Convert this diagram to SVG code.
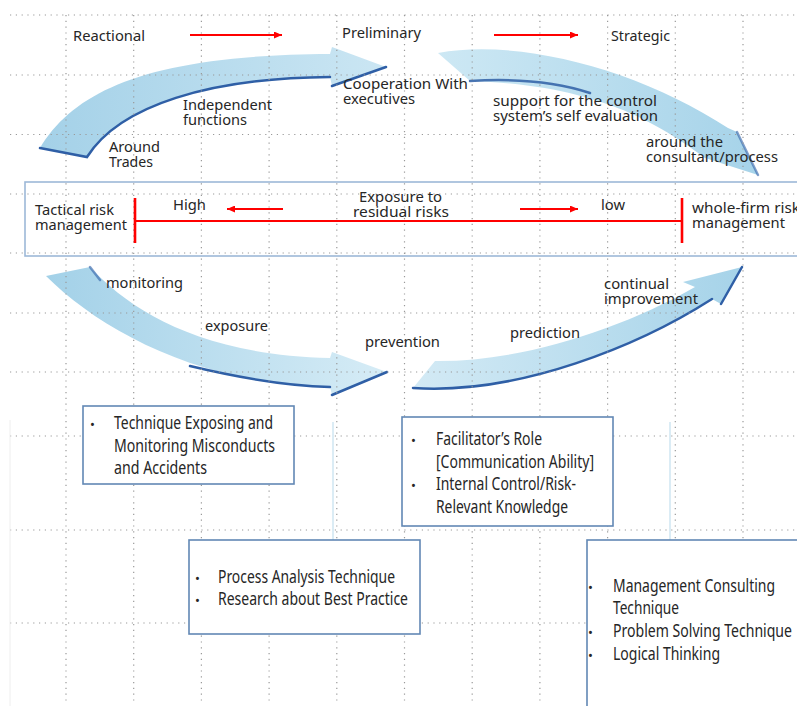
<svg xmlns="http://www.w3.org/2000/svg" width="797" height="706" viewBox="0 0 797 706">
<defs>
<style>
.lbl{font-family:"Noto Sans","Open Sans","DejaVu Sans",sans-serif;font-size:14px;fill:#262626}
.bx{font-family:"Noto Sans","Open Sans","DejaVu Sans",sans-serif;font-size:18px;fill:#262626}
.bul{font-family:"Noto Sans","DejaVu Sans",sans-serif;font-size:13px;fill:#262626}
.grid{stroke:#9a9a9a;stroke-width:1.2;stroke-dasharray:1.2 4.6;fill:none}
.red{stroke:#ff0000;stroke-width:2;fill:none}
.tick{stroke:#ff0000;stroke-width:2.6;fill:none}
.box{fill:#ffffff;stroke:#6288b5;stroke-width:1.6}
.dk{stroke:#2f5fa6;stroke-width:2.5;fill:none;stroke-linecap:round}
.thin{stroke:#cfe6f2;stroke-width:1.5;fill:none}
</style>
<marker id="rh" markerUnits="userSpaceOnUse" markerWidth="9" markerHeight="7" refX="8" refY="3.5" orient="auto">
<path d="M0,0 L8,3.5 L0,7 Z" fill="#ff0000"/>
</marker>
<linearGradient id="g1" x1="0" y1="0" x2="1" y2="0">
<stop offset="0" stop-color="#a4d1e8"/><stop offset="1" stop-color="#cbe6f3"/>
</linearGradient>
<linearGradient id="g2" x1="0" y1="0" x2="1" y2="0">
<stop offset="0" stop-color="#cde8f4"/><stop offset="1" stop-color="#a6d3e9"/>
</linearGradient>
<linearGradient id="g3" x1="0" y1="0" x2="1" y2="0">
<stop offset="0" stop-color="#a3d1e8"/><stop offset="1" stop-color="#d6ecf6"/>
</linearGradient>
<linearGradient id="g4" x1="0" y1="0" x2="1" y2="0">
<stop offset="0" stop-color="#d3eaf5"/><stop offset="1" stop-color="#a6d3e9"/>
</linearGradient>
</defs>
<rect x="0" y="0" width="797" height="706" fill="#ffffff"/>

<g id="connectors">
<path d="M40,148 C75,90 150,55 330,54 L332,47 L386,67 L332,86 L330,77 C210,78 120,105 87,157 Z" fill="url(#g1)"/>
<path class="dk" d="M40,148 L87,157 C120,105 210,78 330,77 M332,86 L386,67"/>
<path d="M438,53 C520,38 640,70 728,128 L737,132 L758,175 L705,158 C660,125 600,85 470,81 Z" fill="url(#g2)"/>
<path class="dk" d="M470,81 C520,78 560,83 590,93" stroke-opacity="0.85"/>
<path class="dk" d="M737,132 L758,175" stroke-opacity="0.6" stroke-width="1.6"/>
<path d="M46,276 L90,267 C130,310 200,355 330,358 L332,352 L387,372 L332,395 L330,387 C200,385 100,330 46,276 Z" fill="url(#g3)"/>
<path class="dk" d="M90,267 L100,280" stroke-opacity="0.6" stroke-width="1.8"/>
<path class="dk" d="M190,366 C240,378 290,386 330,387 M332,395 L387,372"/>
<path d="M413,388 L435,361 C520,362 620,330 695,287 L683,282 L742,267 L721,304 L712,299 C640,345 520,395 413,388 Z" fill="url(#g4)"/>
<path class="dk" d="M413,388 C520,395 640,345 712,299 M721,304 L742,267"/>
<line class="red" x1="190" y1="35" x2="282" y2="35" marker-end="url(#rh)"/>
<line class="red" x1="494" y1="35" x2="578" y2="35" marker-end="url(#rh)"/>
</g>

<g id="grid">
<path class="grid" d="M10,15H797M10,75H797M10,134.5H797M10,194H797M10,253H797M10,313H797M10,372H797M10,436H797M10,530H797M10,623H797"/>
<path class="grid" d="M66,15V702M133.7,15V702M201.4,15V702M269.1,15V702M336.8,15V702M404.5,15V702M472.2,15V702M539.9,15V702M607.6,15V702M675.3,15V702M743,15V702"/>
<path class="thin" d="M333,422V540M670,422V540"/>
<path d="M10,420V706" stroke="#eeeeee" stroke-width="1"/>
</g>

<g id="risk-scale">
<rect x="25" y="182" width="790" height="74" fill="none" stroke="#9db8d8" stroke-width="1.6"/>
<line class="red" x1="135" y1="221" x2="682" y2="221"/>
<line class="tick" x1="135" y1="198" x2="135" y2="243"/>
<line class="tick" x1="682" y1="198" x2="682" y2="243"/>
<line class="red" x1="283" y1="209" x2="227" y2="209" marker-end="url(#rh)"/>
<line class="red" x1="520" y1="209" x2="578" y2="209" marker-end="url(#rh)"/>
</g>

<g id="stage-labels">
<text class="lbl" x="73" y="41" textLength="72" lengthAdjust="spacingAndGlyphs">Reactional</text>
<text class="lbl" x="342" y="38" textLength="79" lengthAdjust="spacingAndGlyphs">Preliminary</text>
<text class="lbl" x="611" y="41" textLength="59" lengthAdjust="spacingAndGlyphs">Strategic</text>
</g>

<g id="arrow-labels">
<text class="lbl" x="343" y="89" textLength="125" lengthAdjust="spacingAndGlyphs">Cooperation With</text>
<text class="lbl" x="343" y="104" textLength="72" lengthAdjust="spacingAndGlyphs">executives</text>
<text class="lbl" x="183" y="110" textLength="89" lengthAdjust="spacingAndGlyphs">Independent</text>
<text class="lbl" x="183" y="125" textLength="64" lengthAdjust="spacingAndGlyphs">functions</text>
<text class="lbl" x="109" y="152" textLength="51" lengthAdjust="spacingAndGlyphs">Around</text>
<text class="lbl" x="109" y="167" textLength="44" lengthAdjust="spacingAndGlyphs">Trades</text>
<text class="lbl" x="493" y="106" textLength="164" lengthAdjust="spacingAndGlyphs">support for the control</text>
<text class="lbl" x="493" y="121" textLength="165" lengthAdjust="spacingAndGlyphs">system’s self evaluation</text>
<text class="lbl" x="646" y="147" textLength="77" lengthAdjust="spacingAndGlyphs">around the</text>
<text class="lbl" x="646" y="162" textLength="132" lengthAdjust="spacingAndGlyphs">consultant/process</text>
<text class="lbl" x="106" y="288" textLength="77" lengthAdjust="spacingAndGlyphs">monitoring</text>
<text class="lbl" x="205" y="331" textLength="63" lengthAdjust="spacingAndGlyphs">exposure</text>
<text class="lbl" x="365" y="347" textLength="75" lengthAdjust="spacingAndGlyphs">prevention</text>
<text class="lbl" x="510" y="338" textLength="70" lengthAdjust="spacingAndGlyphs">prediction</text>
<text class="lbl" x="604" y="289" textLength="65" lengthAdjust="spacingAndGlyphs">continual</text>
<text class="lbl" x="604" y="304" textLength="94" lengthAdjust="spacingAndGlyphs">improvement</text>
</g>

<g id="scale-labels">
<text class="lbl" x="35" y="215" textLength="79" lengthAdjust="spacingAndGlyphs">Tactical risk</text>
<text class="lbl" x="35" y="230" textLength="92" lengthAdjust="spacingAndGlyphs">management</text>
<text class="lbl" x="173" y="210" textLength="33" lengthAdjust="spacingAndGlyphs">High</text>
<text class="lbl" x="359" y="202" textLength="83" lengthAdjust="spacingAndGlyphs">Exposure to</text>
<text class="lbl" x="353" y="217" textLength="96" lengthAdjust="spacingAndGlyphs">residual risks</text>
<text class="lbl" x="601" y="210" textLength="24" lengthAdjust="spacingAndGlyphs">low</text>
<text class="lbl" x="692" y="213" textLength="108" lengthAdjust="spacingAndGlyphs">whole-firm risk</text>
<text class="lbl" x="692" y="228" textLength="93" lengthAdjust="spacingAndGlyphs">management</text>
</g>

<g id="box-exposing">
<rect class="box" x="83" y="406" width="211" height="78"/>
<text class="bul" x="90" y="429">•</text>
<text class="bx" x="114" y="429" textLength="159" lengthAdjust="spacingAndGlyphs">Technique Exposing and</text>
<text class="bx" x="114" y="452" textLength="161" lengthAdjust="spacingAndGlyphs">Monitoring Misconducts</text>
<text class="bx" x="114" y="474" textLength="93" lengthAdjust="spacingAndGlyphs">and Accidents</text>
</g>

<g id="box-facilitator">
<rect class="box" x="402" y="417" width="211" height="109"/>
<text class="bul" x="411" y="445">•</text>
<text class="bx" x="436" y="445" textLength="106" lengthAdjust="spacingAndGlyphs">Facilitator’s Role</text>
<text class="bx" x="436" y="468" textLength="158" lengthAdjust="spacingAndGlyphs">[Communication Ability]</text>
<text class="bul" x="411" y="490">•</text>
<text class="bx" x="436" y="490" textLength="140" lengthAdjust="spacingAndGlyphs">Internal Control/Risk-</text>
<text class="bx" x="436" y="513" textLength="132" lengthAdjust="spacingAndGlyphs">Relevant Knowledge</text>
</g>

<g id="box-process">
<rect class="box" x="189" y="540" width="231" height="94"/>
<text class="bul" x="195" y="583">•</text>
<text class="bx" x="218" y="583" textLength="177" lengthAdjust="spacingAndGlyphs">Process Analysis Technique</text>
<text class="bul" x="195" y="605">•</text>
<text class="bx" x="218" y="605" textLength="190" lengthAdjust="spacingAndGlyphs">Research about Best Practice</text>
</g>

<g id="box-consulting">
<rect class="box" x="587" y="540" width="230" height="190"/>
<text class="bul" x="588" y="592">•</text>
<text class="bx" x="613" y="592" textLength="162" lengthAdjust="spacingAndGlyphs">Management Consulting</text>
<text class="bx" x="613" y="614" textLength="66" lengthAdjust="spacingAndGlyphs">Technique</text>
<text class="bul" x="588" y="637">•</text>
<text class="bx" x="613" y="637" textLength="179" lengthAdjust="spacingAndGlyphs">Problem Solving Technique</text>
<text class="bul" x="588" y="660">•</text>
<text class="bx" x="613" y="660" textLength="107" lengthAdjust="spacingAndGlyphs">Logical Thinking</text>
</g>
</svg>
